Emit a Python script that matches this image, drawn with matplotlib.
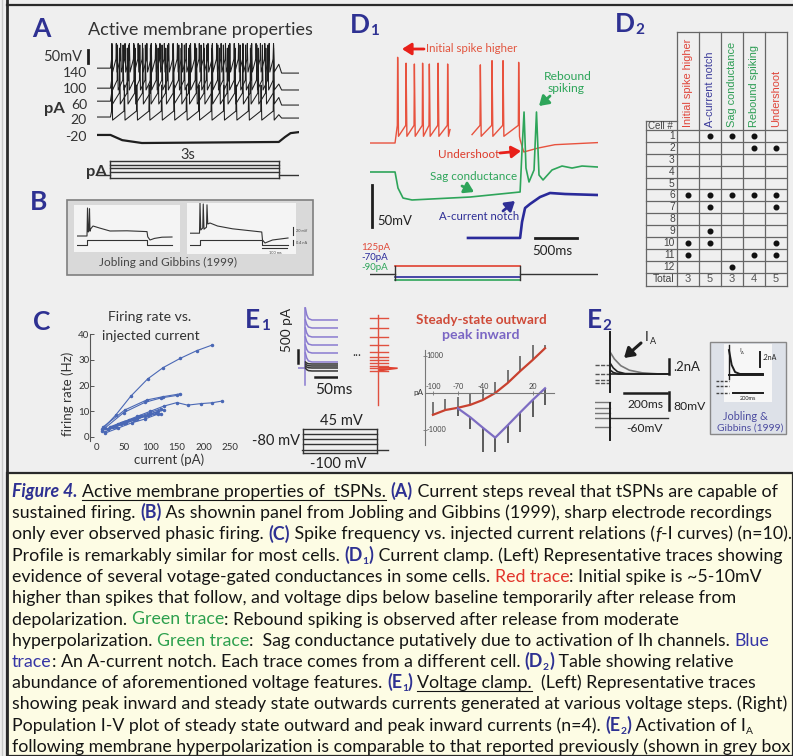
import numpy as np
import matplotlib
matplotlib.use("Agg")
import matplotlib.pyplot as plt
from matplotlib import font_manager
from matplotlib.font_manager import FontProperties
from matplotlib.patches import Rectangle

# ======================= DATA =======================
# Panel A : current steps (display units, 50 units = scale bar)
A_step_labels = ["140", "100", "60", "20", "-20"]
A_spike_counts = [38, 30, 22, 14]
A_base = [315, 238, 188, 127]
A_peak = [410, 404, 392, 250]
A_trough = [300, 231, 177, 115]
A_thresh = [350, 269, 219, 150]
A_post = [296, 231, 173, 123]
A_neg_t = [0, 0.24, 0.45, 0.8, 3.24, 3.35, 3.45, 3.6]
A_neg_v = [58, 58, 38, 27, 31, 50, 65, 69]
A_protocol_levels = [-42, -56, -69, -83, -106]
A_hold = -96

# Panel B : Jobling & Gibbins traces (ms, mV)
B1_t = [0, 40, 42, 45, 48, 50, 52, 55, 64, 90, 132, 200, 280, 283, 292, 310, 340, 380]
B1_v = [-60, -60, 10, -50, -45, 8, -48, -42, -35, -40, -47.5, -47, -49, -62, -70, -66, -63, -62.5]
B2_t = [0, 38, 40, 43, 51, 53, 56, 66, 68, 71, 80, 110, 170, 287, 290, 300, 330, 392]
B2_v = [-53, -53, 22, -45, -40, 20, -43, -38, 18, -30, -27.5, -35, -42, -50, -70, -77.5, -70, -65]
B_cur_t1 = [0, 40, 40, 280, 280, 380]
B_cur_t2 = [0, 38, 38, 287, 287, 392]
B_cur_v = [-82.5, -82.5, -70, -70, -82.5, -82.5]

# Panel C : f-I curves
C_I = [
    [10, 35, 63, 95, 124, 156, 187, 216],
    [12, 52, 93, 124, 156],
    [15, 50, 90, 120, 150],
    [20, 45, 75, 100, 125, 150, 170, 195, 215, 235],
    [15, 35, 55, 75, 95, 115],
    [20, 40, 60, 80, 100, 120],
    [15, 40, 65, 90, 115],
    [25, 50, 75, 100, 125],
    [10, 30, 50, 70, 90, 110],
    [20, 45, 70, 95, 120],
]
C_F = [
    [3, 8.5, 15.8, 22.6, 27, 30.6, 33.6, 35.8],
    [4, 10.5, 14.4, 15.7, 16.8],
    [3.5, 9.5, 13.5, 15.2, 16.2],
    [3, 5.5, 8, 10, 12, 13.4, 12.4, 13, 13.3, 14],
    [2, 4, 5.5, 7, 8.5, 10],
    [3, 5, 6.5, 8, 9.5, 11],
    [1.5, 3.5, 5.5, 7, 9],
    [4, 6, 7.5, 9, 10.5],
    [2.5, 4, 5.5, 7, 8, 9.5],
    [3, 5, 6.5, 8.5, 9],
]
C_xticks = [0, 50, 100, 150, 200, 250]
C_yticks = [0, 10, 20, 30, 40]

# Panel D1 : current clamp traces (ms, display mV)
D1_step = [298, 1786]
D1_red_spikes1 = [325, 425, 524, 622, 702, 806, 920]
D1_red_peaks1 = [42, 35, 34, 35, 34, 35, 34]
D1_red_spikes2 = [1309, 1448, 1579, 1765]
D1_red_peaks2 = [33, 38, 38, 36]
D1_red_tail_t = [1786, 1830, 2000, 2200, 2713]
D1_red_tail_v = [-56, -70.7, -66, -62, -59.5]
D1_green_t = [0, 298, 333, 393, 500, 1190, 1786, 1809, 1833, 1856, 1892, 1952, 1981, 2011,
              2059, 2166, 2285, 2404, 2523, 2713]
D1_green_v = [-94.5, -94.5, -113.6, -125.5, -127.8, -124.3, -118.3, -68.3, -23.1, -89.8, -106.4,
              -92.1, -23.1, -98.1, -104, -92.1, -87.4, -89.8, -87.4, -88.6]
D1_blue_t = [1166, 1786, 1809, 1845, 1904, 2023, 2142, 2321, 2713]
D1_blue_v = [-173, -173, -154, -137.4, -132.6, -124.3, -119.5, -120.7, -121.9]
D1_prot_red, D1_prot_hold, D1_prot_blue, D1_prot_green = -206.4, -215.9, -219.5, -223.0
D1_current_labels = ["125pA", "-70pA", "-90pA"]

# Panel D2 : table
D2_features = ["Initial spike higher", "A-current notch", "Sag conductance",
               "Rebound spiking", "Undershoot"]
D2_cells = list(range(1, 13))
D2_marks = {1: [1, 2, 3], 2: [3, 4], 6: [0, 1, 2, 3, 4], 7: [1, 4], 9: [1],
            10: [0, 1, 4], 11: [0, 3, 4], 12: [2]}
D2_totals = [3, 5, 3, 4, 5]

# Panel E1 : voltage clamp currents (pA)
E1_levels = [1848, 1540, 1194, 885, 577, 231, 154, 77, 0, -115]
E1_peaks = [2310, 1850, 1540, 1194, 885, 577, 231, 154, 77, 0]
E1_decay_t = [5, 8, 12, 20, 80]
E1_decay_frac = [1.0, 0.45, 0.12, 0.0, 0.0]
E1_red_levels = [1925, 1540, 1194, 885, 616, 424, 308, 193, 77, 0, -115]
E1_tail_t = [30, 40, 55, 74]
E1_tail_lo = [-115, -100, -60, -20]
E1_tail_hi = [77, 77, 60, 40]
E1_prot_levels = [45, 15, -15, -45, -100]
E1_prot_hold = -80
# I-V relation
E1_V = [-100, -85, -70, -55, -40, -25, -10, 5, 20, 35]
E1_out = [-590, -460, -400, -320, -190, 0, 270, 590, 890, 1210]
E1_out_err = [350, 300, 300, 300, 300, 300, 350, 400, 400, 400]
E1_in_V = [-70, -55, -40, -25, -10, 5, 20, 35]
E1_in = [-415, -657, -937, -1207, -873, -527, -190, 127]
E1_in_err = [200, 320, 650, 380, 480, 520, 450, 450]
E1_iv_xticks = [-100, -70, -40, 20]
E1_iv_yticks = [1000, -1000]

# Panel E2 : I_A
E2_pre_levels = [120, 0, -80, -120]
E2_decay_t = [[70, 90, 120, 160, 220, 300, 340],
              [70, 85, 105, 140, 340],
              [70, 85, 110, 340],
              [70, 340]]
E2_decay_i = [[293, 200, 110, 50, 15, 0, 0],
              [146, 80, 30, 5, 0],
              [53, 20, 0, 0],
              [0, 0]]
E2_v_pre = [11, -15.6, -37.8, -60, -100]
E2_v_step = -60
# inset (Jobling & Gibbins)
E2i_pre = [-15, -30, -52]
E2i_t = [22, 26, 31, 38, 72]
E2i_i = [81, 35, 13, 7, 7]

# ======================= FIGURE =======================
W, H = 793, 756
fig = plt.figure(figsize=(W / 100, H / 100), dpi=100)
fig.patch.set_facecolor('#efefef')
bg = fig.add_axes([0, 0, 1, 1])
bg.set_xlim(0, W)
bg.set_ylim(H, 0)
bg.axis('off')
R = fig.canvas.get_renderer()

avail = {f.name for f in font_manager.fontManager.ttflist}
CAL = next(f for f in ['Lato', 'Open Sans', 'Noto Sans', 'DejaVu Sans'] if f in avail)
ARI = 'Liberation Sans' if 'Liberation Sans' in avail else 'DejaVu Sans'

NAVY = '#2e3192'
GREEN = '#2ea55a'
PURP = '#8a7bd0'
INK = '#1e1e1e'


def fp(size, family=None, weight='normal', style='normal'):
    return FontProperties(family=family or CAL, size=size, weight=weight, style=style)


def tw(s, prop):
    a = R.get_text_width_height_descent('|' + s + '|', prop, ismath=False)[0]
    b = R.get_text_width_height_descent('||', prop, ismath=False)[0]
    return a - b


def fit(s, width, family=None, weight='normal', style='normal'):
    return 10 * width / tw(s, fp(10, family, weight, style))


def put(x, y, s, width=None, size=10, family=None, weight='normal', style='normal',
        color=INK, ha='left', va='center', rotation=0, ax=None, **kw):
    family = family or CAL
    if width is not None:
        size = fit(s, width, family, weight, style)
    (ax if ax is not None else bg).text(x, y, s, fontsize=size, family=family, weight=weight,
                                        style=style, color=color, ha=ha, va=va,
                                        rotation=rotation, **kw)
    return size


def px_axes(x0, y0, x1, y1, xlim, ylim):
    ax = fig.add_axes([x0 / W, 1 - y1 / H, (x1 - x0) / W, (y1 - y0) / H])
    ax.set_xlim(*xlim)
    ax.set_ylim(*ylim)
    ax.axis('off')
    ax.patch.set_alpha(0)
    return ax


def arrow(tail, tip, color, lw=2.0):
    bg.annotate('', xy=tip, xytext=tail,
                arrowprops=dict(arrowstyle='-|>,head_length=0.55,head_width=0.35',
                                color=color, lw=lw, shrinkA=0, shrinkB=0))


def plabel(x, yb, L, sub=None):
    bg.text(x, yb, L, fontsize=19, family=CAL, weight='bold', color=NAVY, va='baseline')
    if sub:
        w = tw(L, fp(19, weight='bold'))
        bg.text(x + w + 0.5, yb + 2, sub, fontsize=11, family=CAL, weight='bold',
                color=NAVY, va='baseline')


# ---------- frame ----------
bg.plot([2, 2], [0, H], color='#c8c8c8', lw=1)
bg.plot([7, 7], [0, H], color='#2a2a2a', lw=2)
bg.plot([7, W], [5, 5], color='#2a2a2a', lw=1.6)
bg.add_patch(Rectangle((7, 473), W - 7, H - 473, facecolor='#fdfce4',
                       edgecolor='#2a2a2a', lw=1.6, zorder=1))

# ======================= PANEL A =======================
plabel(32, 37, 'A')
put(200, 30, "Active membrane properties", width=226, ha='center', color='#333333')
axA = px_axes(97, 38, 299, 182, (0, 3.6), (-123, 431))
t_on, t_off, t_end = 0.24, 3.24, 3.6
for n, b, pk, tr, th, po in zip(A_spike_counts, A_base, A_peak, A_trough, A_thresh, A_post):
    times = np.linspace(t_on + 0.02, t_off - 0.1, n)
    t = [0, t_on]
    v = [b, b]
    for ts in times:
        t += [ts, ts + 0.006, ts + 0.018]
        v += [th, pk, tr]
    t += [t_off, t_off + 0.05, t_end]
    v += [tr + 0.6 * (th - tr), po, po]
    axA.plot(t, v, color=INK, lw=0.75)
axA.plot(A_neg_t, A_neg_v, color=INK, lw=1.6)
axA.plot([-0.16, -0.16], [335, 385], color=INK, lw=2, clip_on=False)
# current protocol
axA.plot([0, t_on], [A_hold, A_hold], color='#333', lw=1)
axA.plot([t_off, t_end], [A_hold, A_hold], color='#333', lw=1)
for lev in A_protocol_levels:
    axA.plot([t_on, t_off], [lev, lev], color='#333', lw=1)
axA.plot([t_on, t_on], [min(A_protocol_levels), max(A_protocol_levels)], color='#333', lw=1)
axA.plot([t_off, t_off], [min(A_protocol_levels), max(A_protocol_levels)], color='#333', lw=1)
sA = put(82, 57, "50mV", width=39, ha='right', color='#333')
for lab, y in zip(A_step_labels, [73, 89, 105, 120, 137]):
    put(87, y, lab, size=sA * 0.95, ha='right', color='#333')
put(44, 109, "pA", size=sA * 1.12, weight='bold', color='#333')
put(188, 155, "3s", size=sA, ha='center', color='#333')
put(86, 172, "pA", size=sA * 1.12, weight='bold', color='#333')

# ======================= PANEL B =======================
plabel(30, 210, 'B')
bg.add_patch(Rectangle((67, 200), 246, 75, facecolor='#d9d9d9', edgecolor='#7f7f7f', lw=1.2, zorder=1))
bg.add_patch(Rectangle((74, 205), 106, 47, facecolor='#f4f4f4', edgecolor='none', zorder=1.1))
bg.add_patch(Rectangle((187, 203), 109, 51, facecolor='#f4f4f4', edgecolor='none', zorder=1.1))
axB1 = px_axes(77, 203, 177, 252, (0, 400), (-100, 22.5))
axB2 = px_axes(190, 203, 295, 252, (0, 420), (-100, 22.5))
axB1.plot(B1_t, B1_v, color='#333', lw=0.8)
axB1.plot(B_cur_t1, B_cur_v, color='#333', lw=0.8)
axB2.plot(B2_t, B2_v, color='#333', lw=0.8)
axB2.plot(B_cur_t2, B_cur_v, color='#333', lw=0.8)
axB2.plot([412, 412], [-37.5, -57.5], color='#333', lw=0.8, clip_on=False)
axB2.plot([412, 412], [-70, -82.5], color='#333', lw=0.8, clip_on=False)
axB2.plot([288, 388], [-90, -90], color='#333', lw=0.8)
put(296, 231, "20 mV", size=2.8, color='#444')
put(296, 243, "0.4 nA", size=2.8, color='#444')
put(275, 253, "100 ms", size=2.8, color='#444', ha='center')
put(168, 262, "Jobling and Gibbins (1999)", width=137, ha='center', color='#444444')

# ======================= PANEL C =======================
plabel(33, 330, 'C')
axC = fig.add_axes([90 / W, 1 - 441 / H, (232 - 90) / W, (441 - 334) / H])
axC.set_xlim(-13.1, 253.3)
axC.set_ylim(-1.56, 40.1)
axC.patch.set_alpha(0)
for s in ['top', 'right', 'bottom']:
    axC.spines[s].set_visible(False)
axC.spines['left'].set_color('#555')
axC.spines['left'].set_linewidth(0.8)
for xs, ys in zip(C_I, C_F):
    axC.plot(xs, ys, color='#4a68b5', lw=0.8, marker='o', ms=1.5)
axC.set_xticks(C_xticks)
axC.set_yticks(C_yticks)
axC.tick_params(axis='x', length=0, pad=1.5, labelsize=7, labelcolor='#333')
axC.tick_params(axis='y', direction='in', length=3, width=0.7, pad=0.5, labelsize=7,
                labelcolor='#333', color='#555')
for lab in axC.get_xticklabels() + axC.get_yticklabels():
    lab.set_family(CAL)
sC = put(151, 336, "injected current", width=98, ha='center', color='#333')
put(150, 317, "Firing rate vs.", size=sC, ha='center', color='#333')
put(68, 394, "firing rate (Hz)", size=sC * 0.95, ha='center', rotation=90, color='#333')
put(169, 460, "current (pA)", size=sC * 0.95, ha='center', color='#333')

# ======================= PANEL D1 =======================
plabel(350, 33, 'D', '1')
axD1 = px_axes(370, 40, 598, 285, (0, 2713), (-229, 62.6))
tr_t, tr_v = [0, D1_step[0]], [-60, -60]
for ts, pk in zip(D1_red_spikes1, D1_red_peaks1):
    tr_t += [ts, ts + 4, ts + 14]
    tr_v += [-39, pk, -52]
tr_t += [952, np.nan, 1214]
tr_v += [-44, np.nan, -50]
for ts, pk in zip(D1_red_spikes2, D1_red_peaks2):
    tr_t += [ts, ts + 4, ts + 14]
    tr_v += [-39, pk, -52]
tr_t += D1_red_tail_t
tr_v += D1_red_tail_v
axD1.plot(tr_t, tr_v, color='#e8523e', lw=1.0)
axD1.plot(D1_green_t, D1_green_v, color=GREEN, lw=1.2)
axD1.plot(D1_blue_t, D1_blue_v, color='#2a2a9a', lw=1.9)
axD1.plot([24, 24], [-110, -160], color=INK, lw=2)
axD1.plot([1964, 2464], [-173, -173], color=INK, lw=2)
# protocol
axD1.plot([0, D1_step[0]], [D1_prot_hold] * 2, color='#333', lw=1)
axD1.plot([D1_step[1], 2713], [D1_prot_hold] * 2, color='#333', lw=1)
axD1.plot(D1_step, [D1_prot_red] * 2, color='#e0402f', lw=1.2)
axD1.plot(D1_step, [D1_prot_blue] * 2, color='#2a2a9a', lw=1.2)
axD1.plot(D1_step, [D1_prot_green] * 2, color=GREEN, lw=1.2)
for ts in D1_step:
    axD1.plot([ts, ts], [D1_prot_red, D1_prot_green], color='#333', lw=1)
sD = put(426, 49, "Initial spike higher", width=92, color='#e2553f')
arrow((424, 49), (402, 49), '#e8201a')
put(568, 76, "Rebound", size=sD * 1.05, color=GREEN, ha='center')
put(566, 89, "spiking", size=sD * 1.05, color=GREEN, ha='center')
arrow((550, 96), (539, 106), GREEN)
put(499, 155, "Undershoot", width=61, color='#dd3a2a', ha='right')
arrow((500, 153), (521, 151), '#e8201a')
put(430, 176, "Sag conductance", width=86, color=GREEN)
arrow((462, 186), (474, 192), GREEN)
put(439, 216, "A-current notch", width=80, color='#2f2f96')
arrow((503, 211), (515, 201), '#2f2f96')
put(377, 221, "50mV", width=35, color='#222')
put(532, 251, "500ms", width=40, color='#222')
put(361, 247, D1_current_labels[0], size=7, color='#e04a3a')
put(361, 257, D1_current_labels[1], size=7, color='#2a2a9a')
put(361, 267, D1_current_labels[2], size=7, color=GREEN)

# ======================= PANEL D2 =======================
plabel(615, 32, 'D', '2')
axT = px_axes(645, 32, 787, 287, (-1.4545, 5.0), (13.2, -8.235))
LC = '#666666'
for j in range(6):
    axT.plot([j, j], [-8.2, 13.1], color=LC, lw=0.9, clip_on=False)
axT.plot([0, 5], [-8.2, -8.2], color=LC, lw=0.9, clip_on=False)
axT.plot([-1.42, -1.42], [-0.75, 13.1], color=LC, lw=0.9, clip_on=False)
axT.plot([-1.42, 0], [-0.75, -0.75], color=LC, lw=0.9)
for r in range(13):
    axT.plot([-1.42, 5], [r, r], color=LC, lw=0.9)
axT.plot([-1.42, 5], [13.1, 13.1], color=LC, lw=0.9, clip_on=False)
hdr_colors = ['#e0453a', '#3b3b9a', '#2e9e55', '#2e9e55', '#e0453a']
hs = fit(D2_features[0], 88, ARI)
for j, (name, c) in enumerate(zip(D2_features, hdr_colors)):
    axT.text(j + 0.5, -0.25, name, rotation=90, ha='center', va='bottom', fontsize=hs,
             family=ARI, color=c)
for r in D2_cells:
    axT.text(-0.1, r - 0.5, str(r), ha='right', va='center', fontsize=7.4, family=ARI, color='#444')
put(-1.33, -0.37, "Cell #", size=7, family=ARI, color='#444', ax=axT)
put(-0.1, 12.55, "Total", size=7.4, family=ARI, color='#444', ha='right', ax=axT)
for j, tot in enumerate(D2_totals):
    axT.text(j + 0.5, 12.55, str(tot), ha='center', va='center', fontsize=8, family=ARI, color='#555')
mx, my = [], []
for r, cols in D2_marks.items():
    for j in cols:
        mx.append(j + 0.5)
        my.append(r - 0.5)
axT.scatter(mx, my, s=11, color='#111')

# ======================= PANEL E1 =======================
plabel(245, 328, 'E', '1')
axE1 = px_axes(298, 305, 338, 395, (-12, 80), (-1040, 2425))
axE1.plot([-11, 5], [0, 0], color=PURP, lw=1.1)
axE1.plot([3, 3], [-650, 2300], color=PURP, lw=1.1)
for k, (lev, pk) in enumerate(zip(E1_levels, E1_peaks)):
    col = PURP if k < 6 else '#333333'
    vals = [lev + f * (pk - lev) for f in E1_decay_frac]
    axE1.plot(E1_decay_t, vals, color=col, lw=1.1)
axE1.plot([-11, -11], [193, 693], color=INK, lw=1.8, clip_on=False)
axE1.plot([27, 77], [-346, -346], color=INK, lw=1.8)
axE1r = px_axes(365, 305, 400, 395, (0, 80.5), (-1040, 2425))
for lev in E1_red_levels:
    axE1r.plot([11.5, 53], [lev, lev], color='#e0503f', lw=1.0)
axE1r.plot([30, 30], [-1425, 2040], color='#e0503f', lw=1.0, clip_on=False)
axE1r.fill_between(E1_tail_t, E1_tail_lo, E1_tail_hi, color='#e0402f', lw=0)
put(287, 330, "500 pA", width=44, rotation=90, ha='center', color='#222')
sE = put(315, 390, "50ms", width=37, color='#222')
put(357, 352, "...", size=9, ha='center', color='#333')
# protocol
axP = px_axes(298, 425, 392, 455, (0, 94), (-113.5, 69.4))
axP.plot([4, 90], [E1_prot_hold] * 2, color='#333', lw=1)
for lev in E1_prot_levels:
    axP.plot([5, 79], [lev, lev], color='#333', lw=1)
for tt in [5, 79]:
    axP.plot([tt, tt], [min(E1_prot_levels), max(E1_prot_levels)], color='#333', lw=1)
put(341, 421, "45 mV", size=sE * 0.95, ha='center', color='#222')
put(300, 441, "-80 mV", size=sE * 0.95, ha='right', color='#222')
put(338, 464, "-100 mV", size=sE * 0.95, ha='center', color='#222')
# I-V plot
axIV = fig.add_axes([425 / W, 1 - 455 / H, (556 - 425) / W, (455 - 345) / H])
axIV.set_xlim(-109.6, 48.2)
axIV.set_ylim(-1676, 1297)
axIV.patch.set_alpha(0)
for s in ['top', 'right']:
    axIV.spines[s].set_visible(False)
axIV.spines['bottom'].set_position(('data', 0))
axIV.spines['bottom'].set_bounds(-109.6, 46)
axIV.spines['left'].set_bounds(-1400, 1150)
for s in ['bottom', 'left']:
    axIV.spines[s].set_color('#777')
    axIV.spines[s].set_linewidth(0.8)
axIV.set_xticks(E1_iv_xticks)
axIV.set_yticks(E1_iv_yticks)
axIV.set_xticklabels([])
axIV.set_yticklabels([])
axIV.tick_params(axis='both', direction='inout', length=3, width=0.6, color='#777')
for v in E1_iv_xticks:
    axIV.text(v, 70, str(v), ha='center', va='bottom', fontsize=5.3, family=CAL, color='#444')
for v in E1_iv_yticks:
    axIV.text(-108, v, str(v), ha='left', va='center', fontsize=5.3, family=CAL, color='#444')
axIV.errorbar(E1_V, E1_out, yerr=[np.zeros(len(E1_V)), E1_out_err], fmt='none',
              ecolor='#555', elinewidth=1.1, capsize=0)
axIV.errorbar(E1_in_V, E1_in, yerr=[E1_in_err, np.zeros(len(E1_in_V))], fmt='none',
              ecolor='#333', elinewidth=1.1, capsize=0)
axIV.plot(E1_V, E1_out, color='#c8412f', lw=1.6)
axIV.plot(E1_in_V, E1_in, color='#7d6cc2', lw=1.6)
put(-111, 0, "pA", width=10, ha='right', color='#333', ax=axIV)
put(481, 320, "Steady-state outward", width=131, weight='bold', color='#cf4a38', ha='center')
put(481, 335, "peak inward", width=77, weight='bold', color='#7a66c4', ha='center')

# ======================= PANEL E2 =======================
plabel(587, 328, 'E', '2')
axE2 = px_axes(595, 328, 672, 396, (0, 358), (-293, 612))
for lev in E2_pre_levels:
    axE2.plot([0, 70], [lev, lev], color='#555', lw=1, ls=(0, (3, 1)))
for k, (tt, ii) in enumerate(zip(E2_decay_t, E2_decay_i)):
    axE2.plot(tt, ii, color='#777' if k == 0 else '#222', lw=1.2)
axE2.plot([70, 70], [-240, 559], color=INK, lw=1.4)
axE2.plot([345, 345], [0, 200], color=INK, lw=1.8)
axE2.plot([135, 335], [-253, -253], color=INK, lw=1.8)
axE2v = px_axes(595, 390, 672, 442, (0, 358), (-166.6, 64.3))
for lev in E2_v_pre:
    axE2v.plot([0, 70], [lev, lev], color='#777', lw=1)
axE2v.plot([70, 340], [E2_v_step, E2_v_step], color='#333', lw=1)
axE2v.plot([70, 70], [6.6, -157.7], color=INK, lw=1.4)
axE2v.plot([345, 345], [55.4, -24.6], color=INK, lw=1.8)
put(645, 337, "I", size=10, color='#222')
put(650, 341, "A", size=6.5, color='#222')
arrow((641, 343), (624, 358), INK, lw=2.2)
put(673, 367, ".2nA", width=27, color='#222')
s2 = put(627, 404, "200ms", width=36, color='#222')
put(673, 407, "80mV", width=32, color='#222')
put(626, 428, "-60mV", size=s2, color='#222')
# inset
bg.add_patch(Rectangle((710, 342), 76, 92, facecolor='#dde1e8', edgecolor='#888', lw=1, zorder=1))
bg.add_patch(Rectangle((724, 344), 48, 58, facecolor='#f7f7f7', edgecolor='none', zorder=1.1))
axI = px_axes(714, 344, 782, 402, (0, 100), (-80, 100))
for lev in E2i_pre:
    axI.plot([3, 22], [lev, lev], color='#444', lw=1, ls=(0, (2, 1)))
axI.plot([22, 22], [-10, 97], color=INK, lw=1.0)
axI.plot(E2i_t, E2i_i, color=INK, lw=1.4)
axI.plot([22, 72], [4, 4], color=INK, lw=1.4)
axI.plot([67.6, 67.6], [28.6, 75], color=INK, lw=1.4)
axI.plot([28, 72], [-52, -52], color=INK, lw=1.4)
put(739, 351, "I", size=4.5, color='#333')
put(741, 353, "A", size=3, color='#333')
put(763, 357, ".2nA", size=5, color='#222')
put(748, 399, "200ms", size=4, color='#222', ha='center')
put(745, 417, "Jobling &", width=45, ha='center', color='#4b4ba0')
put(750, 428, "Gibbins (1999)", width=66, ha='center', color='#4b4ba0')

# ======================= CAPTION =======================
CAP = [
    [("Figure 4.", "bi"), (" ", ""), ("Active membrane properties of  tSPNs.", "u"), (" ", ""),
     ("(A)", "b"), (" Current steps reveal that tSPNs are capable of", "")],
    [("sustained firing. ", ""), ("(B)", "b"),
     (" As shownin panel from Jobling and Gibbins (1999), sharp electrode recordings", "")],
    [("only ever observed phasic firing. ", ""), ("(C)", "b"),
     (" Spike frequency vs. injected current relations (", ""), ("f", "i"), ("-I curves) (n=10).", "")],
    [("Profile is remarkably similar for most cells. ", ""), ("(D", "b"), ("1", "bs"), (")", "b"),
     (" Current clamp. (Left) Representative traces showing", "")],
    [("evidence of several votage-gated conductances in some cells. ", ""), ("Red trace", "r"),
     (": Initial spike is ~5-10mV", "")],
    [("higher than spikes that follow, and voltage dips below baseline temporarily after release from", "")],
    [("depolarization. ", ""), ("Green trace", "g"),
     (": Rebound spiking is observed after release from moderate", "")],
    [("hyperpolarization. ", ""), ("Green trace", "g"),
     (":  Sag conductance putatively due to activation of Ih channels. ", ""), ("Blue", "bl")],
    [("trace", "bl"), (": An A-current notch. Each trace comes from a different cell. ", ""),
     ("(D", "b"), ("2", "bs"), (")", "b"), (" Table showing relative", "")],
    [("abundance of aforementioned voltage features. ", ""), ("(E", "b"), ("1", "bs"), (")", "b"),
     (" ", ""), ("Voltage clamp.", "u"), ("  (Left) Representative traces", "")],
    [("showing peak inward and steady state outwards currents generated at various voltage steps. (Right)", "")],
    [("Population I-V plot of steady state outward and peak inward currents (n=4). ", ""),
     ("(E", "b"), ("2", "bs"), (")", "b"), (" Activation of I", ""), ("A", "s")],
    [("following membrane hyperpolarization is comparable to that reported previously (shown in grey box", "")],
]
STYLE_COLOR = {"b": NAVY, "bi": NAVY, "bs": NAVY, "r": "#e2352b", "g": "#2ea04e", "bl": "#3535a5"}


def capprop(st, size):
    weight = 'bold' if st in ('b', 'bi', 'bs') else 'normal'
    style = 'italic' if st in ('bi', 'i') else 'normal'
    sz = size * 0.58 if st in ('bs', 's') else size
    return fp(sz, CAL, weight, style)


line1 = sum(tw(s, capprop(st, 10)) for s, st in CAP[0])
cs = 10 * 763 / line1
for i, line in enumerate(CAP):
    x = 12
    yb = 497 + 21.25 * i
    for s, st in line:
        prop = capprop(st, cs)
        dy = 3 if st in ('bs', 's') else 0
        bg.text(x, yb + dy, s, fontproperties=prop, color=STYLE_COLOR.get(st, '#151515'),
                va='baseline', zorder=3)
        w = tw(s, prop)
        if st == 'u':
            bg.plot([x, x + w], [yb + 2.5, yb + 2.5], color='#151515', lw=0.8, zorder=3)
        x += w

fig.savefig("out.png", dpi=100, facecolor=fig.get_facecolor())
